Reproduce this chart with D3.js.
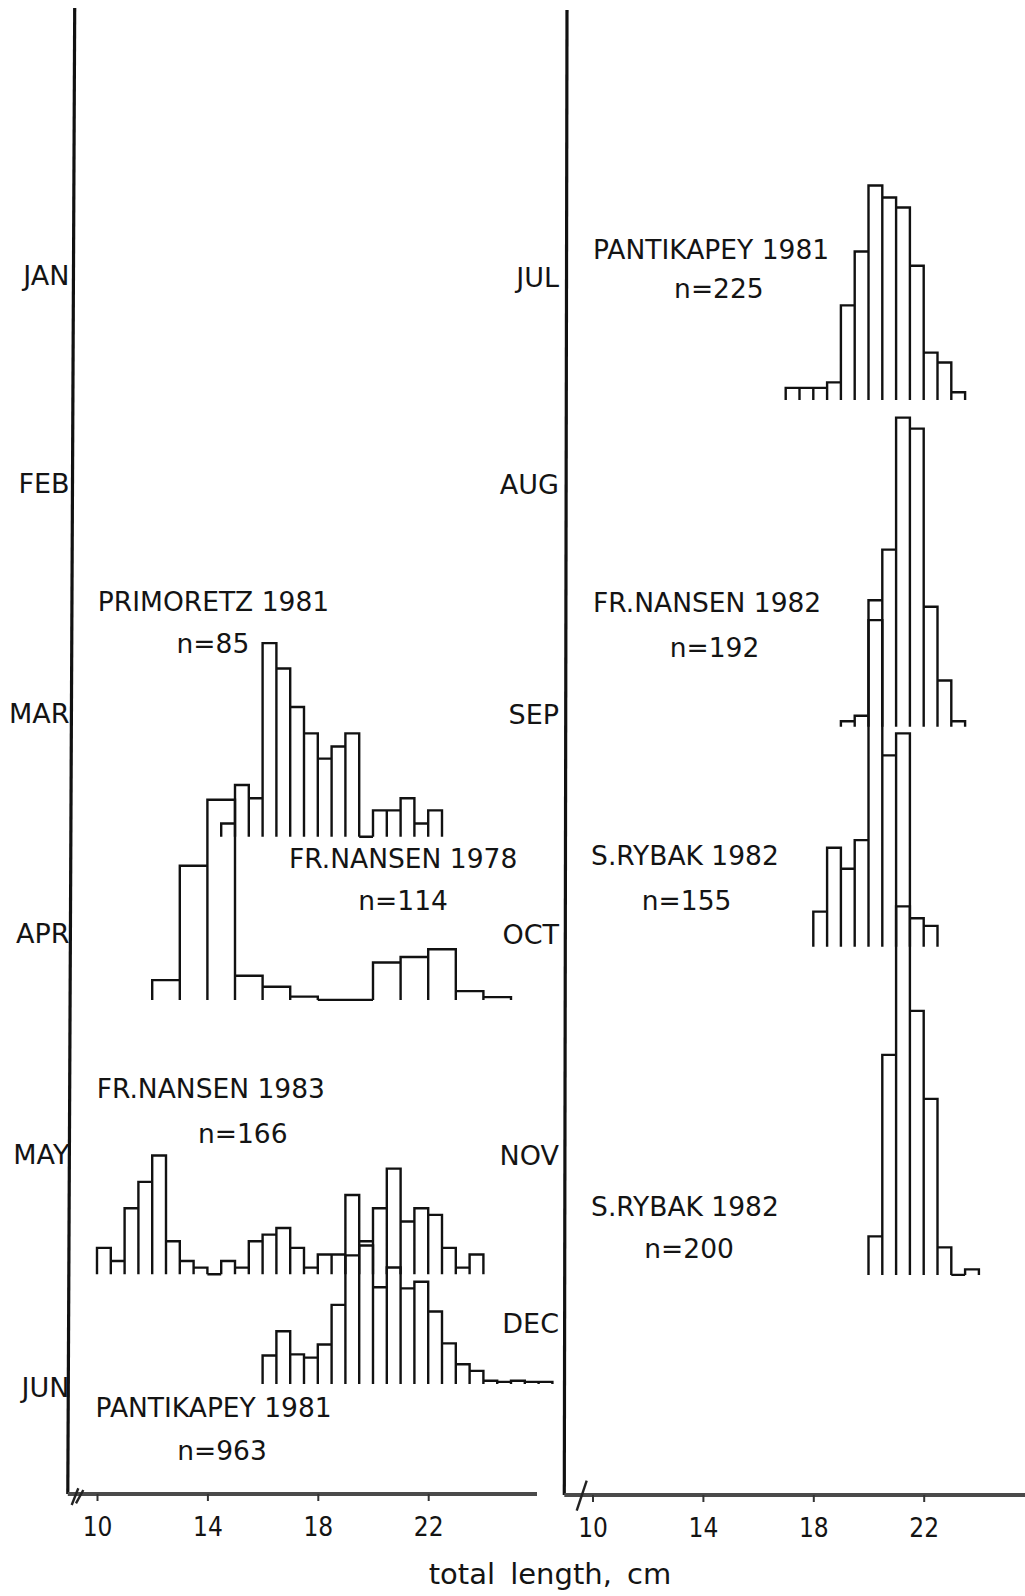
<!DOCTYPE html>
<html>
<head>
<meta charset="utf-8">
<script src="https://cdn.jsdelivr.net/npm/d3@7"></script>
<style>
body { margin:0; background:#fff; }
svg text { font-family:"DejaVu Sans", sans-serif; fill:#141414; }
.ticklab { font-family:"DejaVu Sans Condensed","DejaVu Sans", sans-serif; font-stretch:condensed; }
</style>
</head>
<body>
<svg id="chart" width="1025" height="1596"></svg>
<script>
// month labels on the two time axes (decimal month where the label sits)
var monthsLeft = ["JAN","FEB","MAR","APR","MAY","JUN"];
var monthAtLeft = [1, 1.934, 2.969, 3.958, 4.952, 6];
var monthsRight = ["JUL","AUG","SEP","OCT","NOV","DEC"];
var monthAtRight = [7.009, 7.942, 8.977, 9.966, 10.96, 11.716];
var lengthTicks = [10, 14, 18, 22];

// percent of fish per length class
var primoretz81 = [1.2, 4.7, 3.5, 17.6, 15.3, 11.8, 9.4, 7.1, 8.2, 9.4, 0, 2.4, 2.4, 3.5, 1.2, 2.4];
var nansen78 = [1.8, 12.2, 18.2, 2.2, 1.2, 0.3, 0, 0, 3.4, 3.9, 4.6, 0.8, 0.25];
var nansen83 = [2.4, 1.2, 6.0, 8.4, 10.8, 3.0, 1.2, 0.6, 0, 1.2, 0.6, 3.0, 3.6, 4.2,
                2.4, 0.6, 1.8, 1.8, 7.2, 3.0, 6.0, 9.6, 4.8, 6.0, 5.4, 2.4, 0.6, 1.8];
var pantik81jun = [2.6, 4.8, 2.7, 2.4, 3.6, 7.2, 11.7, 12.6, 8.8, 10.6, 8.7, 9.3, 6.6, 3.7,
                   1.8, 1.2, 0.3, 0.2, 0.3, 0.2, 0.2];
var pantik81jul = [1.1, 1.1, 1.1, 1.6, 8.6, 13.5, 19.5, 18.4, 17.5, 12.2, 4.3, 3.4, 0.7];
var nansen82 = [0.5, 1.0, 11.5, 16.1, 28.1, 27.1, 10.9, 4.2, 0.5];
var rybak82oct = [3.2, 9.0, 7.1, 9.7, 29.7, 17.4, 19.4, 2.6, 1.9];
var rybak82nov = [3.5, 20, 33.5, 24, 16, 2.5, 0, 0.5];

// panel, vessel/year, n, sampling month (baseline), first class (cm), class width (cm), values
var samples = [
  {panel:0, name:"PRIMORETZ 1981", n:85, month:3.527, from:14.5, step:0.5, pct:primoretz81},
  {panel:0, name:"FR.NANSEN 1978", n:114, month:4.261, from:12, step:1, pct:nansen78},
  {panel:0, name:"FR.NANSEN 1983", n:166, month:5.495, from:10, step:0.5, pct:nansen83},
  {panel:0, name:"PANTIKAPEY 1981", n:963, month:5.989, from:16, step:0.5, pct:pantik81jun},
  {panel:1, name:"PANTIKAPEY 1981", n:225, month:7.562, from:17, step:0.5, pct:pantik81jul},
  {panel:1, name:"FR.NANSEN 1982", n:192, month:9.032, from:19, step:0.5, pct:nansen82},
  {panel:1, name:"S.RYBAK 1982", n:155, month:10.022, from:18, step:0.5, pct:rybak82oct},
  {panel:1, name:"S.RYBAK 1982", n:200, month:11.498, from:20, step:0.5, pct:rybak82nov}
];

// where the sample captions go: [title cm, title month, n cm, n month]
var captionAt = [
  [10.03, 2.469, 14.20, 2.655],
  [16.96, 3.623, 21.09, 3.812],
  [9.99, 4.657, 15.28, 4.860],
  [9.95, 6.092, 14.53, 6.288],
  [10.02, 6.885, 14.58, 7.058],
  [10.02, 8.474, 14.42, 8.675],
  [9.95, 9.609, 13.41, 9.812],
  [9.95, 11.188, 13.50, 11.377]
];

var svg = d3.select("#chart");
var cmPx = 27.6;

var xs = [
  d3.scaleLinear().domain([10, 22]).range([97, 97 + 12*cmPx]),
  d3.scaleLinear().domain([10, 22]).range([592.5, 592.5 + 12*cmPx])
];
var ys = [
  d3.scaleLinear().domain([1, 6]).range([275, 1386.5]),
  d3.scaleLinear().domain([7, 12]).range([275, 1386.5])
];
var hs = d3.scaleLinear().domain([0, 10]).range([0, 110]);

// frame: slightly hand drawn vertical axes, grey base line
var frames = [
  {top:[74.7, 8], bottom:[67.8, 1494], right:537},
  {top:[567, 10], bottom:[564.3, 1495], right:1025}
];

frames.forEach(function(f, p){
  svg.append("line")
    .attr("x1", f.top[0]).attr("y1", f.top[1])
    .attr("x2", f.bottom[0]).attr("y2", f.bottom[1])
    .attr("stroke", "#111").attr("stroke-width", 3.2);
  svg.append("line")
    .attr("x1", f.bottom[0]).attr("y1", f.bottom[1])
    .attr("x2", f.right).attr("y2", f.bottom[1])
    .attr("stroke", "#4a4a4a").attr("stroke-width", 3.8);

  var axis = d3.axisBottom(xs[p])
    .tickValues(lengthTicks)
    .tickSize(7)
    .tickFormat(d3.format("d"));
  var g = svg.append("g")
    .attr("transform", "translate(0," + f.bottom[1] + ")")
    .call(axis);
  g.select(".domain").remove();
  g.selectAll(".tick line").attr("stroke", "#333").attr("stroke-width", 2);
  g.selectAll(".tick text")
    .attr("class", "ticklab")
    .attr("y", 42).attr("dy", null)
    .attr("font-size", 26)
    .attr("fill", "#141414");
});

// axis breaks
var brk = d3.line();
[[[71.7,1505],[78.3,1488.3]], [[76,1503.3],[83.3,1490]], [[576.7,1510.7],[586.7,1480.7]]]
  .forEach(function(seg){
    svg.append("path").attr("d", brk(seg))
      .attr("stroke", "#222").attr("stroke-width", 2.4).attr("fill", "none");
  });

// month labels
function monthLabels(names, at, p, xEnd){
  svg.append("g").selectAll("text")
    .data(names)
    .enter().append("text")
    .attr("x", xEnd)
    .attr("y", function(d, i){ return ys[p](at[i]) + 10; })
    .attr("text-anchor", "end")
    .attr("font-size", 27)
    .text(function(d){ return d; });
}
monthLabels(monthsLeft, monthAtLeft, 0, 69.5);
monthLabels(monthsRight, monthAtRight, 1, 559);

// histograms, each class drawn as an open box standing on the baseline
function classPath(s){
  var x = xs[s.panel], base = ys[s.panel](s.month);
  var pth = d3.path();
  s.pct.forEach(function(v, i){
    var x0 = x(s.from + i*s.step), x1 = x(s.from + (i+1)*s.step);
    var top = base - hs(v);
    pth.moveTo(x0, base);
    pth.lineTo(x0, top);
    pth.lineTo(x1, top);
    pth.lineTo(x1, base);
  });
  return pth.toString();
}

svg.append("g").selectAll("path")
  .data(samples)
  .enter().append("path")
  .attr("d", classPath)
  .attr("fill", "none")
  .attr("stroke", "#111")
  .attr("stroke-width", 2.4)
  .attr("stroke-linejoin", "miter");

// captions
samples.forEach(function(s, i){
  var c = captionAt[i];
  var x = xs[s.panel], y = ys[s.panel];
  svg.append("text")
    .attr("x", x(c[0])).attr("y", y(c[1]) + 9.7)
    .attr("font-size", 26.5)
    .text(s.name);
  svg.append("text")
    .attr("x", x(c[2])).attr("y", y(c[3]) + 9.7)
    .attr("text-anchor", "middle")
    .attr("font-size", 26.5)
    .text("n=" + s.n);
});

svg.append("text")
  .attr("x", 550).attr("y", 1584)
  .attr("text-anchor", "middle")
  .attr("font-size", 29)
  .attr("word-spacing", 6)
  .text("total length, cm");
</script>
</body>
</html>
